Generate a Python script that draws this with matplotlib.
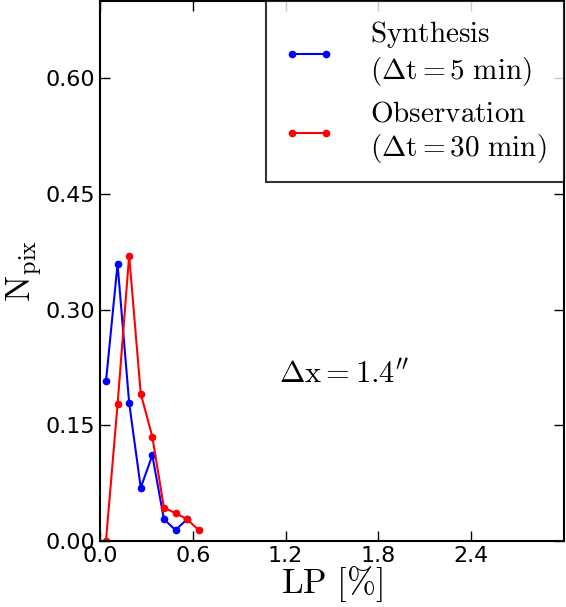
import numpy as np
import matplotlib
matplotlib.use('Agg')
import matplotlib.pyplot as plt

plt.rcParams['mathtext.fontset'] = 'cm'
plt.rcParams['font.family'] = 'DejaVu Sans'

# bin centres of LP [%]
lp_syn = [0.0375, 0.1125, 0.1875, 0.2625, 0.3375, 0.4125, 0.4875, 0.5625]
npix_syn = [0.207, 0.359, 0.179, 0.069, 0.111, 0.028, 0.014, 0.028]

lp_obs = [0.0375, 0.1125, 0.1875, 0.2625, 0.3375, 0.4125, 0.4875, 0.5625, 0.6375]
npix_obs = [0.0, 0.177, 0.370, 0.191, 0.135, 0.043, 0.036, 0.028, 0.014]

xticks = [0.0, 0.6, 1.2, 1.8, 2.4]
yticks = [0.00, 0.15, 0.30, 0.45, 0.60]

fig = plt.figure(figsize=(5.66, 6.07), dpi=100)
ax = fig.add_axes([0.177, 0.109, 0.819, 0.889])

ax.plot(lp_syn, npix_syn, 'b-', marker='o', ms=4.5, lw=1.5,
        label='$\\mathrm{Synthesis}$\n$(\\Delta\\mathrm{t}=5\\ \\mathrm{min})$')
ax.plot(lp_obs, npix_obs, 'r-', marker='o', ms=4.5, lw=1.5,
        label='$\\mathrm{Observation}$\n$(\\Delta\\mathrm{t}=30\\ \\mathrm{min})$')

ax.set_xlim(0, 3.0)
ax.set_ylim(0, 0.70)
ax.set_xticks(xticks)
ax.set_yticks(yticks)
ax.set_xticklabels(['%.1f' % v for v in xticks])
ax.set_yticklabels(['%.2f' % v for v in yticks])
ax.tick_params(direction='in', top=True, right=True, labelsize=16, length=7, width=1)
for s in ax.spines.values():
    s.set_linewidth(1.5)

ax.set_xlabel('$\\mathrm{LP\\ [\\%]}$', fontsize=25, labelpad=-1)
ax.set_ylabel('$\\mathrm{N_{pix}}$', fontsize=25, labelpad=1)

ax.text(1.16, 0.205, '$\\Delta\\mathrm{x}=1.4^{\\prime\\prime}$', fontsize=22)

leg = ax.legend(loc='upper right', fontsize=21, numpoints=2, fancybox=False,
                borderaxespad=0, handlelength=1.75, handletextpad=1.2,
                labelspacing=0.4, borderpad=0.6)
leg.get_frame().set_edgecolor('black')
leg.get_frame().set_linewidth(1.5)

fig.savefig('out.png', dpi=100)
